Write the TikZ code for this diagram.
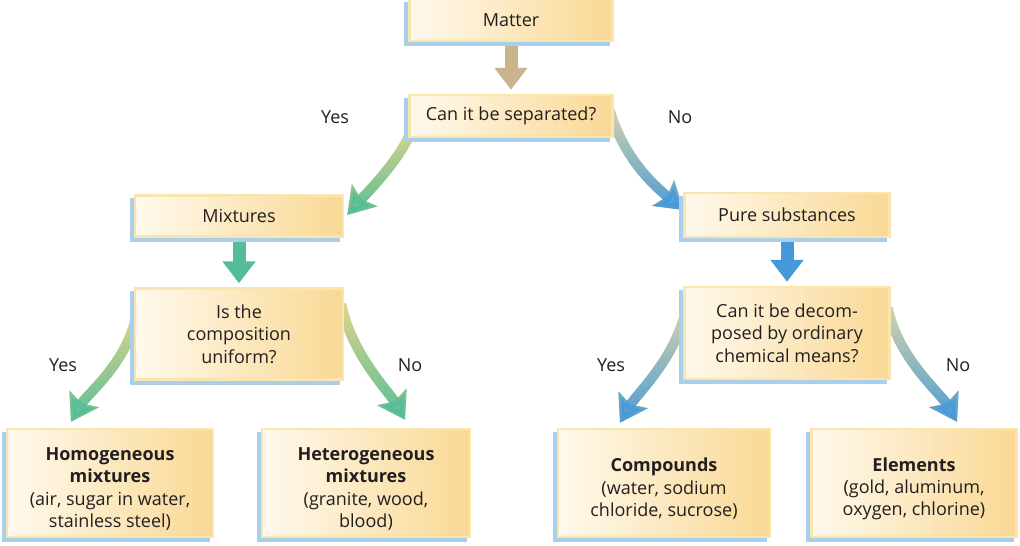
\documentclass[tikz,border=0pt]{standalone}
\usepackage{fontspec}
\setmainfont{Open Sans}
\usetikzlibrary{arrows.meta,fadings,calc}
\pgfdeclarelayer{bg}
\pgfsetlayers{bg,main}
\definecolor{framey}{HTML}{FBE5AE}
\definecolor{boxl}{HTML}{FFF9EC}
\definecolor{boxr}{HTML}{F9D894}
\definecolor{shadowb}{HTML}{A9CFEC}
\definecolor{tanc}{HTML}{C9B48E}
\definecolor{greenc}{HTML}{52BD98}
\definecolor{bluec}{HTML}{4599D8}
\definecolor{startg}{HTML}{E3D68A}
\definecolor{startb}{HTML}{D9D6A8}
\definecolor{textc}{HTML}{231F20}
\newcommand\curvarr[3]{%
  \draw[carr, #1] #3;
  \draw[carr, #2, path fading=north] #3;}
\newcommand\lowstrut{\rule{0pt}{25pt}}
\begin{document}
\begin{tikzpicture}[x=1pt,y=-1pt,
  box/.style={draw=framey, line width=2.5pt, left color=boxl, right color=boxr,
    align=center, text=textc, font=\fontsize{18}{22.3}\selectfont, inner sep=2pt,
    preaction={fill=shadowb, draw=shadowb, transform canvas={xshift=-4pt,yshift=-4pt}}},
  lab/.style={text=textc, font=\fontsize{18}{22}\selectfont},
  arr/.style={line width=13pt, -{Triangle[width=32pt,length=22pt]}},
  carr/.style={line width=10pt, -{Stealth[width=33pt,length=26pt,inset=5pt]}}
]
\useasboundingbox (0,0) rectangle (1020,546);
\clip (0,0) rectangle (1020,546);

% boxes
\node[box, minimum width=203pt, minimum height=42pt] (matter) at (511,20) {Matter};
\node[box, minimum width=203pt, minimum height=42pt] (sep) at (511,116) {Can it be separated?};
\node[box, minimum width=208pt, minimum height=41pt] (mix) at (239,216) {Mixtures};
\node[box, minimum width=208pt, minimum height=91pt] (comp) at (239,334) {Is the\\composition\\uniform?};
\node[box, minimum width=205pt, minimum height=44pt] (pure) at (787,215) {Pure substances};
\node[box, minimum width=205pt, minimum height=92pt] (decomp) at (787,333) {Can it be decom-\\posed by ordinary\\chemical means?};
\node[box, minimum width=206pt, minimum height=108pt] (homo) at (110,483) {\lowstrut\textbf{Homogeneous}\\\textbf{mixtures}\\(air, sugar in water,\\stainless steel)};
\node[box, minimum width=208pt, minimum height=108pt] (hetero) at (366,483) {\lowstrut\textbf{Heterogeneous}\\\textbf{mixtures}\\(granite, wood,\\blood)};
\node[box, minimum width=212pt, minimum height=108pt] (cpd) at (664,483) {\lowstrut\textbf{Compounds}\\(water, sodium\\chloride, sucrose)};
\node[box, minimum width=205pt, minimum height=108pt] (elem) at (914,483) {\lowstrut\textbf{Elements}\\(gold, aluminum,\\oxygen, chlorine)};

\begin{pgfonlayer}{bg}
\fill[white] (0,0) rectangle (1020,546);
% straight arrows
\draw[arr, tanc, shorten >=4pt] (matter) -- (sep);
\draw[arr, greenc, shorten >=4pt] (mix) -- (comp);
\draw[arr, bluec, shorten >=4pt] (pure) -- (decomp);

% curved arrows (start hidden behind the boxes)
\curvarr{startg}{greenc}{([xshift=4pt,yshift=12pt]sep.south west) .. controls +(-6,28) and +(14,-16) .. ([xshift=3pt,yshift=1pt]mix.east)}
\curvarr{startb}{bluec}{([xshift=-4pt,yshift=6pt]sep.east) .. controls +(14,50) and +(-26,-22) .. ([xshift=0pt,yshift=5pt]pure.west)}
\curvarr{startg}{greenc}{([xshift=3pt,yshift=20pt]comp.west) .. controls +(-10,50) and +(16,-28) .. ([xshift=-39pt,yshift=6pt]homo.north)}
\curvarr{startg}{greenc}{([xshift=-3pt,yshift=30pt]comp.east) .. controls +(10,50) and +(-16,-28) .. ([xshift=39pt,yshift=8pt]hetero.north)}
\curvarr{startb}{bluec}{([xshift=3pt,yshift=25pt]decomp.west) .. controls +(-10,50) and +(16,-28) .. ([xshift=-44pt,yshift=5pt]cpd.north)}
\curvarr{startb}{bluec}{([xshift=-3pt,yshift=25pt]decomp.east) .. controls +(10,50) and +(-16,-28) .. ([xshift=43pt,yshift=6pt]elem.north)}
\end{pgfonlayer}

% labels
\node[lab] (y1) at (335,117) {Yes};
\node[lab] (n1) at (680,117) {No};
\node[lab] (y2) at (63,365) {Yes};
\node[lab] (n2) at (410,365) {No};
\node[lab] (y3) at (611,365) {Yes};
\node[lab] (n3) at (958,365) {No};
\end{tikzpicture}
\end{document}
